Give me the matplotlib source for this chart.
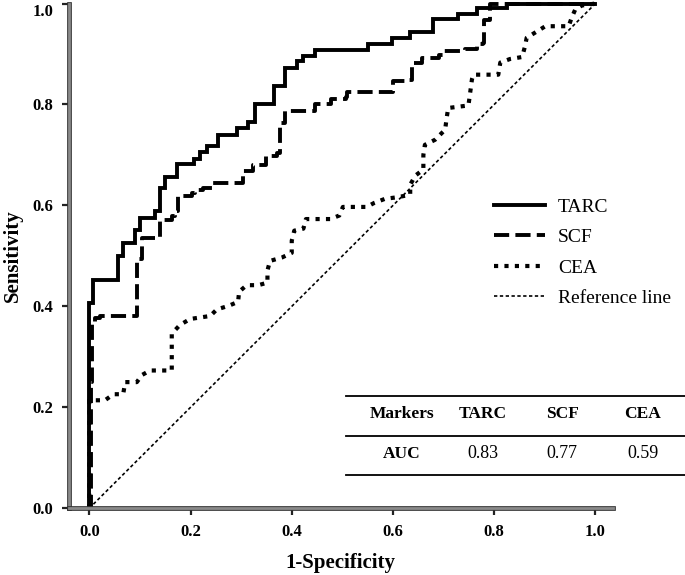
import matplotlib
matplotlib.use('Agg')
import matplotlib.pyplot as plt
import matplotlib.patheffects as pe
from matplotlib.lines import Line2D

# ROC curves (1-specificity, sensitivity)
tarc_fpr = [0, 0, 0.008, 0.057, 0.067, 0.090, 0.100, 0.130, 0.140, 0.150, 0.173, 0.206, 0.219, 0.232,
            0.255, 0.291, 0.314, 0.327, 0.364, 0.387, 0.410, 0.423, 0.446, 0.551, 0.598, 0.634, 0.680,
            0.729, 0.766, 0.825, 1.0]
tarc_tpr = [0, 0.406, 0.452, 0.500, 0.526, 0.552, 0.575, 0.588, 0.634, 0.657, 0.682, 0.692, 0.705, 0.717,
            0.740, 0.753, 0.765, 0.800, 0.836, 0.873, 0.886, 0.896, 0.908, 0.920, 0.932, 0.944, 0.969,
            0.980, 0.992, 1.0, 1.0]

scf_fpr = [0, 0.003, 0.005, 0.011, 0.021, 0.094, 0.104, 0.140, 0.163, 0.169, 0.176, 0.202, 0.209, 0.225,
           0.245, 0.304, 0.324, 0.350, 0.370, 0.377, 0.387, 0.446, 0.477, 0.507, 0.510, 0.600, 0.632,
           0.638, 0.657, 0.690, 0.700, 0.742, 0.765, 0.777, 0.780, 0.792, 1.0]
scf_tpr = [0, 0.250, 0.366, 0.376, 0.381, 0.494, 0.535, 0.571, 0.580, 0.588, 0.618, 0.624, 0.631, 0.634,
           0.645, 0.669, 0.681, 0.697, 0.704, 0.763, 0.788, 0.800, 0.810, 0.815, 0.825, 0.846, 0.849,
           0.882, 0.892, 0.898, 0.906, 0.909, 0.919, 0.922, 0.967, 1.0, 1.0]

cea_fpr = [0, 0, 0.031, 0.048, 0.067, 0.071, 0.094, 0.104, 0.120, 0.163, 0.163, 0.179, 0.199, 0.239,
           0.252, 0.275, 0.294, 0.296, 0.311, 0.334, 0.352, 0.352, 0.357, 0.381, 0.400, 0.400, 0.405,
           0.423, 0.428, 0.476, 0.494, 0.501, 0.548, 0.563, 0.584, 0.607, 0.634, 0.634, 0.644, 0.660,
           0.660, 0.663, 0.683, 0.703, 0.706, 0.709, 0.749, 0.752, 0.756, 0.759, 0.808, 0.812, 0.831,
           0.855, 0.861, 0.864, 0.901, 0.947, 0.953, 0.960, 0.973, 1.0]
cea_tpr = [0, 0.214, 0.214, 0.226, 0.226, 0.250, 0.250, 0.264, 0.273, 0.273, 0.346, 0.363, 0.375, 0.381,
           0.394, 0.401, 0.409, 0.429, 0.442, 0.442, 0.447, 0.471, 0.490, 0.497, 0.506, 0.530, 0.550,
           0.554, 0.573, 0.573, 0.580, 0.597, 0.597, 0.605, 0.613, 0.616, 0.621, 0.641, 0.659, 0.671,
           0.700, 0.720, 0.730, 0.750, 0.773, 0.793, 0.798, 0.820, 0.850, 0.859, 0.859, 0.883, 0.890,
           0.894, 0.916, 0.932, 0.955, 0.955, 0.972, 0.988, 0.996, 1.0]

ref_x = [0, 1]
ref_y = [0, 1]

markers = ['TARC', 'SCF', 'CEA']
auc = ['0.83', '0.77', '0.59']

plt.rcParams['font.family'] = ['Liberation Serif', 'DejaVu Serif']

W, H = 685, 575
fig = plt.figure(figsize=(W / 100, H / 100), dpi=100)
ax = fig.add_axes([68.5 / W, 1 - 508.3 / H, (612.7 - 68.5) / W, (508.3 - 3.5) / H])


def fx(px):
    return px / W


def fy(py):
    return 1 - py / H


ax.plot(tarc_fpr, tarc_tpr, drawstyle='steps-post', color='black', lw=2.8,
        solid_joinstyle='miter', label='TARC', clip_on=False)
ax.plot(scf_fpr, scf_tpr, drawstyle='steps-post', color='black', lw=2.8,
        linestyle=(0, (3.9, 1.6)), dash_capstyle='butt', label='SCF', clip_on=False)
ax.plot(cea_fpr, cea_tpr, color='black', lw=3.0, linestyle=(0, (1, 1.5)),
        dash_capstyle='butt', label='CEA', clip_on=False)
ax.plot(ref_x, ref_y, color='black', lw=1.2, linestyle=(0, (2, 1.5)),
        label='Reference line', clip_on=False)

ax.set_xlim(-0.041, 1.034)
ax.set_ylim(0, 1.0)
ax.set_xticks([0, 0.2, 0.4, 0.6, 0.8, 1.0])
ax.set_yticks([0, 0.2, 0.4, 0.6, 0.8, 1.0])
ax.set_xticklabels(['0.0', '0.2', '0.4', '0.6', '0.8', '1.0'])
ax.set_yticklabels(['0.0', '0.2', '0.4', '0.6', '0.8', '1.0'])
ax.tick_params(direction='out', length=5, width=1.6, color='#222222',
               labelsize=12, pad=6)
for t in ax.get_xticklabels() + ax.get_yticklabels():
    t.set_fontweight('bold')
# top label sits just under the tick, as in the original
ax.get_yticklabels()[-1].set_verticalalignment('top')

for s in ['top', 'right']:
    ax.spines[s].set_visible(False)
for s in ['left', 'bottom']:
    ax.spines[s].set_linewidth(2.0)
    ax.spines[s].set_color('#8a8a8a')
    ax.spines[s].set_path_effects([pe.withStroke(linewidth=3.4, foreground='#333333')])

ax.set_xlabel('1-Specificity', fontsize=15, fontweight='bold')
ax.set_ylabel('Sensitivity', fontsize=15, fontweight='bold')
ax.xaxis.set_label_coords(0.5, -0.088)
ax.yaxis.set_label_coords(-0.083, 0.5)

leg = ax.legend(loc='upper left', bbox_to_anchor=(fx(494), fy(198)), bbox_transform=fig.transFigure,
                frameon=False, fontsize=14, handlelength=2.6, handletextpad=0.7,
                labelspacing=0.66, borderpad=0, borderaxespad=0)

# AUC table under the legend
for py in [396, 436, 475]:
    fig.add_artist(Line2D([fx(346), fx(685)], [fy(py), fy(py)], color='black', lw=1.3))
col_x = [401.7, 482.7, 562.3, 642.7]
fig.text(fx(col_x[0]), fy(414), 'Markers', ha='center', va='center', fontsize=12.5, fontweight='bold')
fig.text(fx(col_x[0]), fy(454), 'AUC', ha='center', va='center', fontsize=12.5, fontweight='bold')
for cx, m, a in zip(col_x[1:], markers, auc):
    fig.text(fx(cx), fy(414), m, ha='center', va='center', fontsize=12.5, fontweight='bold')
    fig.text(fx(cx), fy(454), a, ha='center', va='center', fontsize=13)

fig.savefig('out.png', dpi=100)
